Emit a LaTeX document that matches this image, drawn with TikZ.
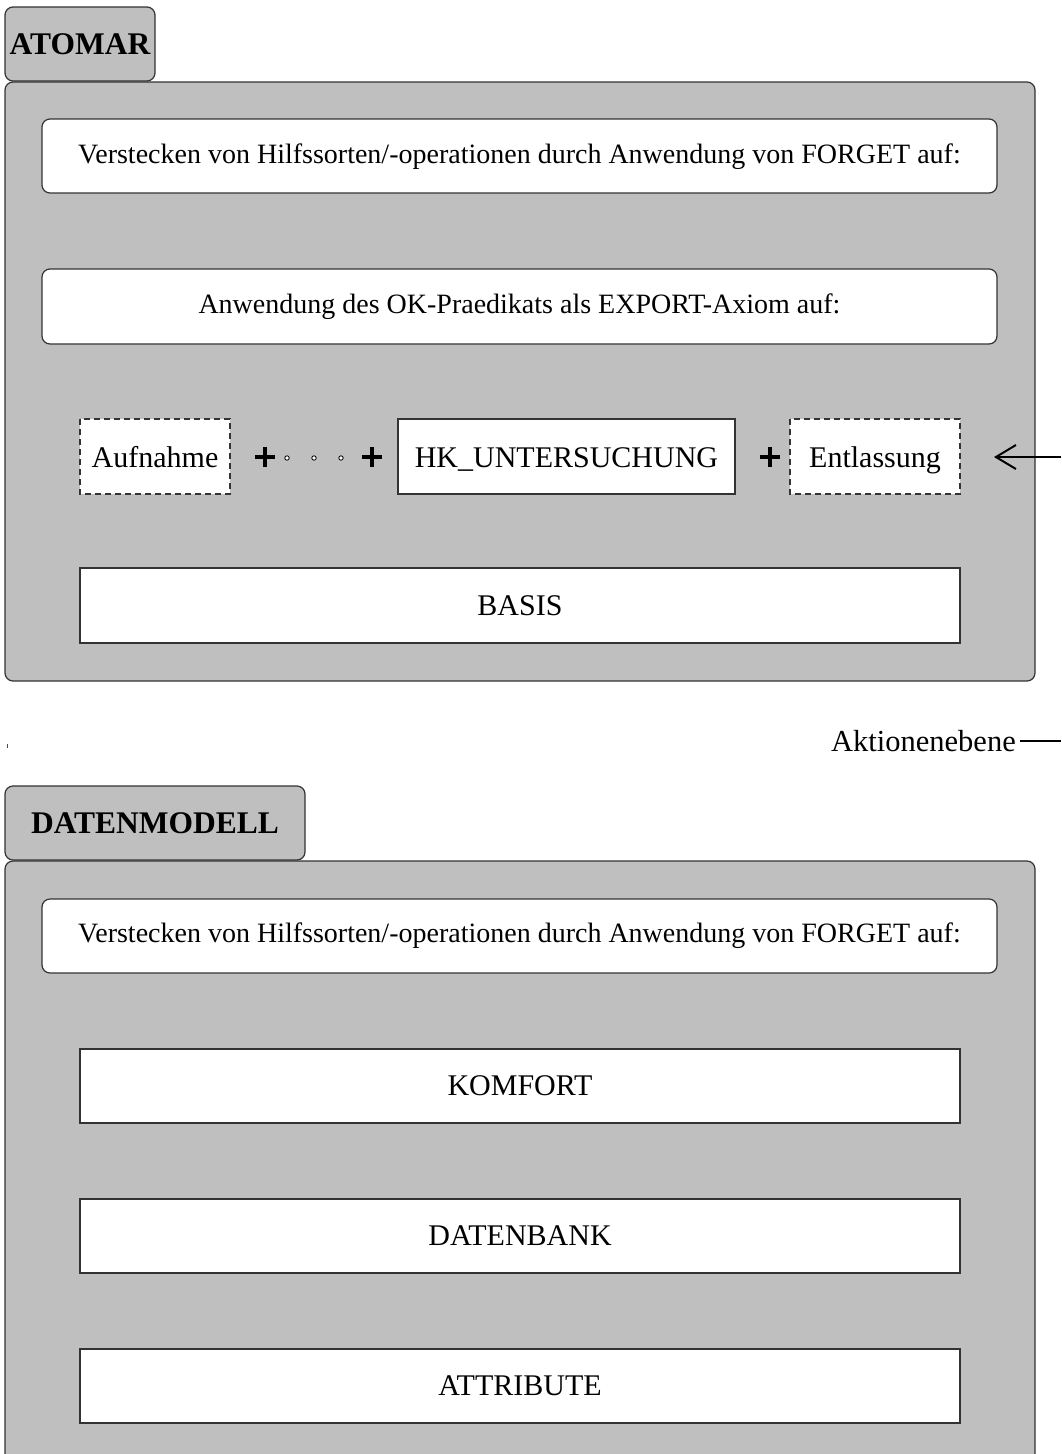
\documentclass[tikz,border=0pt]{standalone}
\usepackage{fontspec}
\setmainfont{Liberation Serif}
\usetikzlibrary{arrows.meta}
\begin{document}
\begin{tikzpicture}[x=1pt,y=-1pt,
  panel/.style={draw=black!80,line width=1.2pt,fill=black!25,rounded corners=8pt},
  tabtext/.style={font=\fontsize{31.5}{36}\selectfont\bfseries},
  rbox/.style={draw=black!80,line width=1.2pt,fill=white,rounded corners=8pt},
  sbox/.style={draw=black!80,line width=1.2pt,fill=white},
  dbox/.style={sbox,dashed,dash pattern=on 6pt off 4pt},
  small/.style={font=\fontsize{28}{32}\selectfont},
  big/.style={font=\fontsize{30}{34}\selectfont},
  plusbar/.style={line width=3.4pt,black},
  dot/.style={draw=black,line width=0.8pt,fill=white},
  lbl/.style={font=\fontsize{30.5}{34}\selectfont,inner sep=0pt}
]
\useasboundingbox (0,0) rectangle (1061,1454);
\clip (0,0) rectangle (1061,1454);

% ---------- ATOMAR ----------
\draw[panel] (5,82) rectangle (1035,681);
\draw[panel] (5,7) rectangle (155,81);
\node[tabtext] (atomar) at (80,44) {ATOMAR};

\draw[rbox] (42,119) rectangle (997,193);
\node[small] (forget1) at (519.5,157) {Verstecken von Hilfssorten/-operationen durch Anwendung von FORGET auf:};

\draw[rbox] (42,269) rectangle (997,344);
\node[small] (export) at (519.5,307) {Anwendung des OK-Praedikats als EXPORT-Axiom auf:};

% row of actions
\draw[dbox] (80,419) rectangle (230,494);
\node[big,anchor=base] (aufnahme) at (155,467) {Aufnahme};
\draw[plusbar] (255,457) -- (275,457) (265,447) -- (265,467);
\draw[dot] (287,458) circle (2.2pt);
\draw[dot] (314,458) circle (2.2pt);
\draw[dot] (341,458) circle (2.2pt);
\draw[plusbar] (362,457) -- (382,457) (372,447) -- (372,467);
\draw[sbox] (398,419) rectangle (735,494);
\node[big,anchor=base] (hk) at (566.5,467) {HK\_UNTERSUCHUNG};
\draw[plusbar] (760,457) -- (780,457) (770,447) -- (770,467);
\draw[dbox] (790,419) rectangle (960,494);
\node[big,anchor=base] (entl) at (875,467) {Entlassung};

\draw[sbox] (80,568) rectangle (960,643);
\node[big] (basis) at (520,606) {BASIS};

% incoming connector from the right
\coordinate (inR) at (1061,457);
\coordinate (inTip) at (994,457);
\draw[line width=2pt,-{Straight Barb[length=20pt,width=24pt,line width=2pt]}] (inR) -- (inTip);

% level label
\node[lbl,anchor=base east] (akt) at (1016,751) {Aktionenebene};
\coordinate (aktL) at (1020,741);
\coordinate (aktR) at (1061,741);
\draw[line width=2.4pt] (aktL) -- (aktR);
\draw[line width=0.6pt,black!70] (7,744) -- (7,748);

% ---------- DATENMODELL ----------
\draw[panel] (5,861) rectangle (1035,1500);
\draw[panel] (5,786) rectangle (305,860);
\node[tabtext] (daten) at (155,823) {DATENMODELL};

\draw[rbox] (42,899) rectangle (997,973);
\node[small] (forget2) at (519.5,936) {Verstecken von Hilfssorten/-operationen durch Anwendung von FORGET auf:};

\draw[sbox] (80,1049) rectangle (960,1123);
\node[big] (komfort) at (520,1086) {KOMFORT};
\draw[sbox] (80,1199) rectangle (960,1273);
\node[big] (datenbank) at (520,1236) {DATENBANK};
\draw[sbox] (80,1349) rectangle (960,1423);
\node[big] (attr) at (520,1386) {ATTRIBUTE};
\end{tikzpicture}
\end{document}
